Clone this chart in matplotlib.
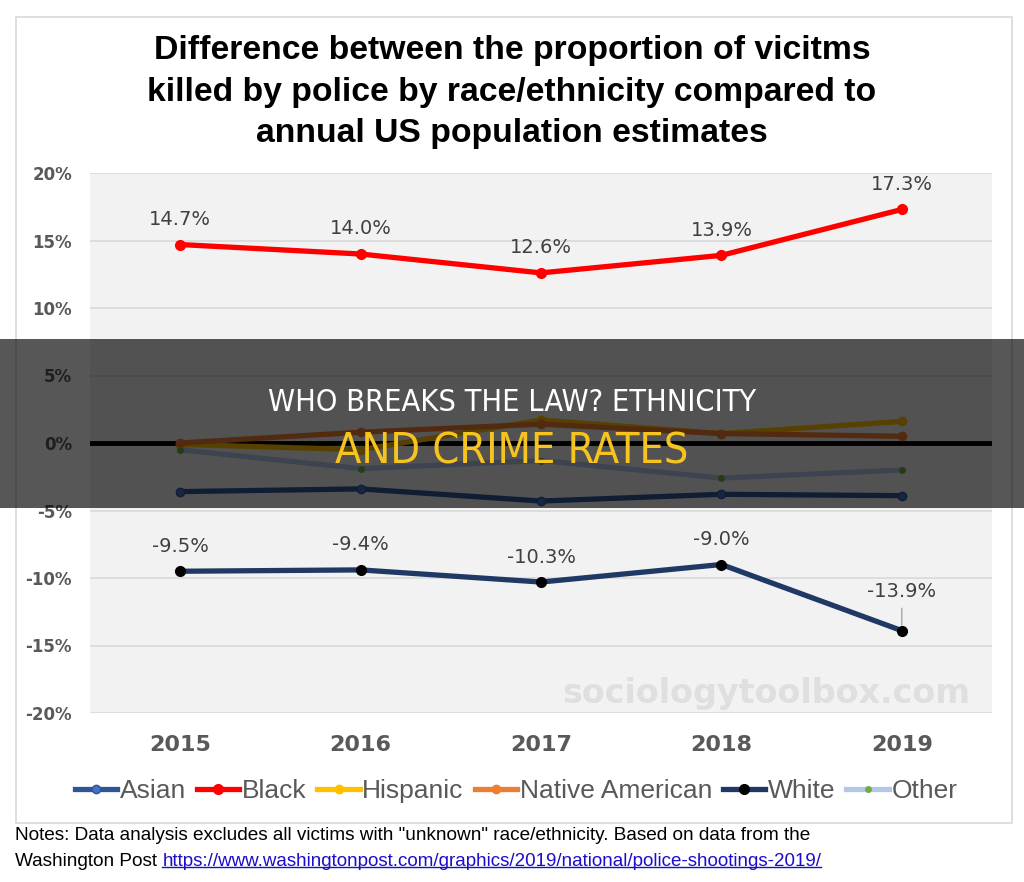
import matplotlib
matplotlib.use("Agg")
import matplotlib.pyplot as plt
from matplotlib.patches import Rectangle
from matplotlib.lines import Line2D

# ===== Data =====
years = ["2015", "2016", "2017", "2018", "2019"]
asian = [-3.6, -3.4, -4.3, -3.8, -3.9]
black = [14.7, 14.0, 12.6, 13.9, 17.3]
hispanic = [-0.1, -0.5, 1.7, 0.7, 1.6]
native = [0.0, 0.8, 1.4, 0.7, 0.5]
white = [-9.5, -9.4, -10.3, -9.0, -13.9]
other = [-0.5, -1.9, -1.3, -2.6, -2.0]

yticks = [-20, -15, -10, -5, 0, 5, 10, 15, 20]

title = ("Difference between the proportion of vicitms\n"
         "killed by police by race/ethnicity compared to\n"
         "annual US population estimates")
note1 = ('Notes: Data analysis excludes all victims with "unknown" '
         'race/ethnicity. Based on data from the')
note2 = "Washington Post "
url = "https://www.washingtonpost.com/graphics/2019/national/police-shootings-2019/"

W, H = 1024, 882


def fx(x):
    return x / W


def fy(y):
    return 1 - y / H


fig = plt.figure(figsize=(W / 100, H / 100), dpi=100)
fig.patch.set_facecolor("white")

# outer chart frame
fig.add_artist(Rectangle((fx(16), fy(823)), fx(1012) - fx(16), fy(17) - fy(823),
                         transform=fig.transFigure, fill=False,
                         edgecolor="#d9d9d9", lw=1.2, zorder=0))

ax = fig.add_axes([fx(90), fy(713), fx(992) - fx(90), fy(173) - fy(713)])
ax.set_facecolor("#f2f2f2")
for s in ax.spines.values():
    s.set_visible(False)

x = list(range(len(years)))
ax.set_xlim(-0.5, len(years) - 0.5)
ax.set_ylim(-20, 20)
ax.set_yticks(yticks)
ax.set_yticklabels([f"{v}%" for v in yticks])
ax.set_xticks(x)
ax.set_xticklabels(years)
ax.grid(axis="y", color="#d9d9d9", lw=1.2)
ax.set_axisbelow(True)
ax.tick_params(length=0)
ax.tick_params(axis="y", pad=13, labelsize=12, labelcolor="#595959")
ax.tick_params(axis="x", pad=16, labelsize=16, labelcolor="#595959")
for lab in ax.get_xticklabels() + ax.get_yticklabels():
    lab.set_fontweight("bold")

ax.axhline(0, color="black", lw=3.5, zorder=2)

lw = 3.8
l_asian, = ax.plot(x, asian, color="#2f5597", lw=lw, marker="o", ms=6,
                   mfc="#4472c4", mec="#2f5597", zorder=3, label="Asian")
l_black, = ax.plot(x, black, color="#ff0000", lw=lw, marker="o", ms=7,
                   zorder=3, label="Black")
l_hisp, = ax.plot(x, hispanic, color="#ffc000", lw=lw, marker="o", ms=6,
                  zorder=3, label="Hispanic")
l_nat, = ax.plot(x, native, color="#ed7d31", lw=lw, marker="o", ms=6,
                 zorder=3, label="Native American")
l_white, = ax.plot(x, white, color="#1f3864", lw=lw, marker="o", ms=7,
                   mfc="black", mec="black", zorder=3, label="White")
l_other, = ax.plot(x, other, color="#b4c7e7", lw=lw, marker="o", ms=4,
                   mfc="#70ad47", mec="#70ad47", zorder=3, label="Other")

# data labels
for i, v in enumerate(black):
    ax.annotate(f"{v:.1f}%", (i, v), xytext=(0, 18), textcoords="offset points",
                ha="center", va="center", fontsize=14, color="#404040")
for i, v in enumerate(white):
    if i == len(white) - 1:
        ax.annotate(f"{v:.1f}%", (i, v), xytext=(0, 28), textcoords="offset points",
                    ha="center", va="center", fontsize=14, color="#404040",
                    arrowprops=dict(arrowstyle="-", color="#a6a6a6", lw=1,
                                    shrinkA=3, shrinkB=4))
    else:
        ax.annotate(f"{v:.1f}%", (i, v), xytext=(0, 18), textcoords="offset points",
                    ha="center", va="center", fontsize=14, color="#404040")

# watermark
fig.text(fx(766), fy(693), "sociologytoolbox.com", ha="center", va="center",
         fontsize=24, fontweight="bold", color="#dfdfdf", zorder=1)

# title
fig.text(0.5, fy(92), title, ha="center", va="center", fontsize=24.3,
         fontweight="bold", family="Liberation Sans", linespacing=1.42)

# legend
fig.legend(handles=[l_asian, l_black, l_hisp, l_nat, l_white, l_other],
           loc="center", bbox_to_anchor=(fx(516), fy(791)), ncol=6,
           frameon=False, prop={"family": "Liberation Sans", "size": 19},
           labelcolor="#595959", handlelength=1.6, handletextpad=0.1,
           columnspacing=0.42, borderaxespad=0)

# notes
fig.text(fx(15), fy(836), note1, ha="left", va="center", fontsize=13.7,
         family="Liberation Sans", color="black")
t2 = fig.text(fx(15), fy(861), note2, ha="left", va="center", fontsize=13.7,
              family="Liberation Sans", color="black")
fig.canvas.draw()
bb = t2.get_window_extent()
t3 = fig.text(bb.x1 / W, fy(861), url, ha="left", va="center", fontsize=13.5,
              family="Liberation Sans", color="#1a0dcc")
fig.canvas.draw()
bb3 = t3.get_window_extent()
fig.add_artist(Line2D([bb3.x0 / W, bb3.x1 / W], [(bb3.y0 + 3) / H] * 2,
                      transform=fig.transFigure, color="#1a0dcc", lw=1))

# dark banner overlay
fig.add_artist(Rectangle((0, fy(508)), 1, fy(339) - fy(508),
                         transform=fig.transFigure, facecolor="black",
                         alpha=0.66, edgecolor="none", zorder=10))
fig.text(0.5, fy(402), "WHO BREAKS THE LAW? ETHNICITY", ha="center", va="center",
         fontsize=22, color="white", zorder=11, fontstretch="condensed",
         family="DejaVu Sans")
fig.text(0.5, fy(451), "AND CRIME RATES", ha="center", va="center",
         fontsize=31, color="#f7c31e", zorder=11, fontstretch="condensed",
         family="DejaVu Sans")

fig.savefig("out.png", dpi=100)
